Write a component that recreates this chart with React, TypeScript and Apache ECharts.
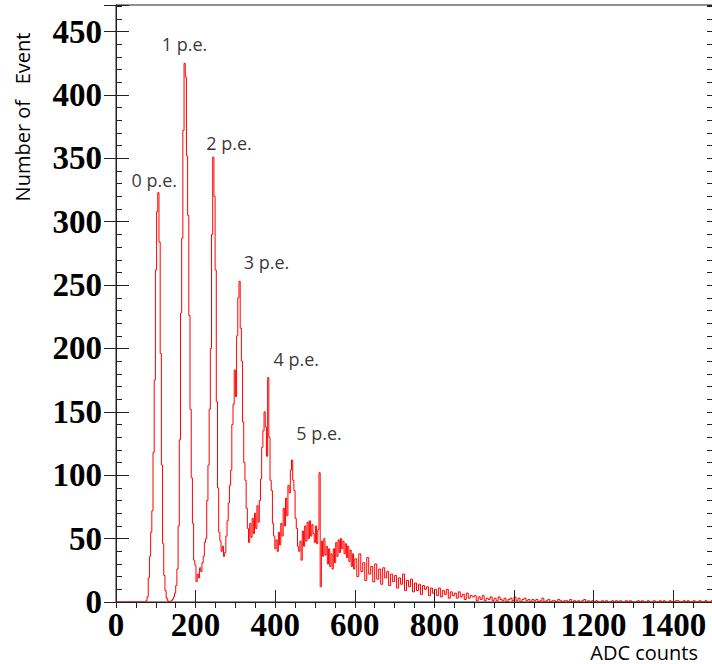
import React, { useEffect, useRef } from "react";
import * as echarts from "echarts";

// Histogram: bins of 3 ADC counts from 60 to 600
const lowStart = 60;
const lowBinWidth = 3;
const lowCounts = [
  0, 0, 0, 0, 0, 1, 4, 19, 36, 55,
  72, 118, 175, 262, 308, 323, 284, 196, 108, 46,
  21, 9, 3, 1, 0, 0, 1, 2, 4, 7,
  13, 26, 60, 128, 228, 287, 372, 425, 414, 352,
  305, 226, 152, 98, 62, 33, 29, 16, 22, 19,
  27, 24, 31, 36, 47, 50, 80, 108, 152, 200,
  290, 351, 320, 262, 158, 90, 55, 48, 40, 44,
  36, 39, 52, 64, 78, 92, 104, 140, 156, 183,
  162, 210, 240, 253, 216, 190, 142, 110, 96, 74,
  58, 47, 62, 51, 66, 54, 70, 58, 76, 63,
  80, 97, 122, 135, 150, 138, 115, 177, 130, 96,
  88, 62, 52, 42, 49, 40, 55, 45, 62, 52,
  74, 60, 82, 68, 92, 86, 104, 112, 96, 88,
  66, 58, 44, 40, 48, 33, 56, 44, 60, 48,
  63, 50, 64, 52, 61, 54, 47, 60, 46, 57,
  102, 12, 48, 36, 50, 37, 44, 30, 42, 28,
  38, 26, 42, 31, 47, 36, 49, 39, 50, 42,
  48, 38, 46, 35, 44, 32, 41, 28, 38, 26,
];
// Tail: bins of 5 ADC counts from 600 to 1500
const tailStart = 600;
const tailBinWidth = 5;
const tailCounts = [
  34, 20, 38, 24, 31, 17, 35, 22, 28, 16,
  30, 18, 26, 14, 27, 19, 24, 13, 22, 16,
  21, 11, 19, 14, 22, 9, 17, 12, 18, 8,
  15, 9, 14, 6, 13, 10, 12, 5, 11, 7,
  10, 5, 11, 4, 9, 6, 10, 3, 8, 5,
  7, 3, 8, 4, 6, 2, 7, 3, 5, 4,
  5, 1, 4, 2, 5, 1, 3, 2, 4, 1,
  3, 1, 4, 2, 1, 3, 0, 2, 3, 1,
  4, 1, 3, 0, 2, 3, 1, 2, 0, 2,
  1, 2, 0, 1, 3, 0, 1, 2, 0, 1,
  1, 0, 2, 1, 0, 1, 1, 0, 2, 0,
  1, 0, 1, 0, 1, 2, 0, 1, 0, 1,
  0, 1, 0, 0, 1, 0, 1, 0, 0, 1,
  0, 1, 0, 1, 0, 0, 1, 0, 1, 0,
  0, 0, 1, 0, 1, 0, 0, 1, 0, 0,
  1, 0, 0, 1, 0, 1, 0, 0, 1, 0,
  0, 1, 1, 0, 0, 1, 0, 1, 0, 0,
  1, 0, 0, 1, 0, 0, 1, 0, 0, 1,
];

const xMin = 0;
const xMax = 1500;
const yMin = 0;
const yMax = 471;

const peakLabels = ["0 p.e.", "1 p.e.", "2 p.e.", "3 p.e.", "4 p.e.", "5 p.e."];
const peakLabelX = [96, 172, 284, 378, 453, 510];
const peakLabelY = [333, 440, 362, 268, 192, 133];

const xTitle = "ADC counts";
const yTitle = "Number of   Event";

const tickFont = {
  fontFamily: "'Liberation Serif', 'Times New Roman', serif",
  fontWeight: "bold" as const,
  fontSize: 33,
  color: "#000",
};

export default function App() {
  const ref = useRef<HTMLDivElement>(null);
  useEffect(() => {
    if (!ref.current) return;
    const chart = echarts.init(ref.current, null, { renderer: "svg" });
    const points: number[][] = [[xMin, 0]];
    lowCounts.forEach((v, i) => points.push([lowStart + i * lowBinWidth, v]));
    tailCounts.forEach((v, i) => points.push([tailStart + i * tailBinWidth, v]));
    points.push([xMax, tailCounts[tailCounts.length - 1]]);

    const axisCol = "#222";
    const commonY = { type: "value" as const, min: yMin, max: yMax, splitLine: { show: false } };
    const commonX = { type: "value" as const, min: xMin, max: xMax, splitLine: { show: false } };

    chart.setOption({
      animation: false,
      backgroundColor: "#fff",
      grid: {
        left: 116,
        right: 2,
        top: 5,
        bottom: 62,
        show: true,
        borderColor: axisCol,
        borderWidth: 1,
        backgroundColor: "transparent",
      },
      xAxis: [
        {
          ...commonX,
          interval: 200,
          z: 3,
          axisLine: { show: true, onZero: false, lineStyle: { color: axisCol, width: 1 } },
          axisTick: { show: true, inside: true, length: 12, lineStyle: { color: axisCol } },
          axisLabel: {
            ...tickFont,
            margin: 6,
            formatter: (v: number) => (v % 200 === 0 ? String(v) : ""),
          },
        },
        {
          ...commonX,
          interval: 50,
          z: 3,
          axisLine: { show: false },
          axisTick: { show: true, inside: true, length: 6, lineStyle: { color: axisCol } },
          axisLabel: { show: false },
        },
      ],
      yAxis: [
        {
          ...commonY,
          interval: 50,
          position: "left",
          axisLine: { show: true, onZero: false, lineStyle: { color: axisCol, width: 1 } },
          axisTick: { show: true, inside: true, length: 13, lineStyle: { color: axisCol } },
          axisLabel: {
            ...tickFont,
            margin: 14,
            formatter: (v: number) => (v % 50 === 0 ? String(v) : ""),
          },
        },
        {
          ...commonY,
          interval: 10,
          position: "left",
          axisLine: { show: false },
          axisTick: { show: true, inside: true, length: 6, lineStyle: { color: axisCol } },
          axisLabel: { show: false },
        },
        {
          ...commonY,
          interval: 50,
          position: "right",
          axisLine: { show: false },
          axisTick: { show: true, inside: true, length: 12, lineStyle: { color: axisCol } },
          axisLabel: { show: false },
        },
        {
          ...commonY,
          interval: 10,
          position: "right",
          axisLine: { show: false },
          axisTick: { show: true, inside: true, length: 6, lineStyle: { color: axisCol } },
          axisLabel: { show: false },
        },
      ],
      series: [
        {
          type: "line",
          xAxisIndex: 0,
          yAxisIndex: 0,
          step: "end",
          data: points,
          showSymbol: false,
          symbol: "none",
          lineStyle: { color: "#ff0000", width: 1 },
          z: 2,
        },
        {
          type: "scatter",
          xAxisIndex: 0,
          yAxisIndex: 0,
          symbolSize: 0,
          data: peakLabels.map((t, i) => [peakLabelX[i], peakLabelY[i], t]),
          label: {
            show: true,
            position: "inside",
            formatter: (p: any) => p.value[2],
            fontFamily: "'Open Sans', 'Noto Sans', sans-serif",
            fontSize: 18,
            color: "#000",
          },
          z: 4,
        },
      ],
      graphic: [
        {
          type: "text",
          x: 22,
          y: 117,
          rotation: Math.PI / 2,
          style: {
            text: yTitle,
            fontFamily: "'Open Sans', 'Noto Sans', sans-serif",
            fontSize: 20,
            fill: "#000",
            align: "center",
            verticalAlign: "middle",
          },
        },
        {
          type: "text",
          x: 698,
          y: 652,
          style: {
            text: xTitle,
            fontFamily: "'Open Sans', 'Noto Sans', sans-serif",
            fontSize: 20,
            fill: "#000",
            align: "right",
            verticalAlign: "middle",
          },
        },
      ],
    });
    return () => chart.dispose();
  }, []);
  return (
    <div
      ref={ref}
      style={{ position: "fixed", left: 0, top: 0, width: 716, height: 664, background: "#fff" }}
    />
  );
}
